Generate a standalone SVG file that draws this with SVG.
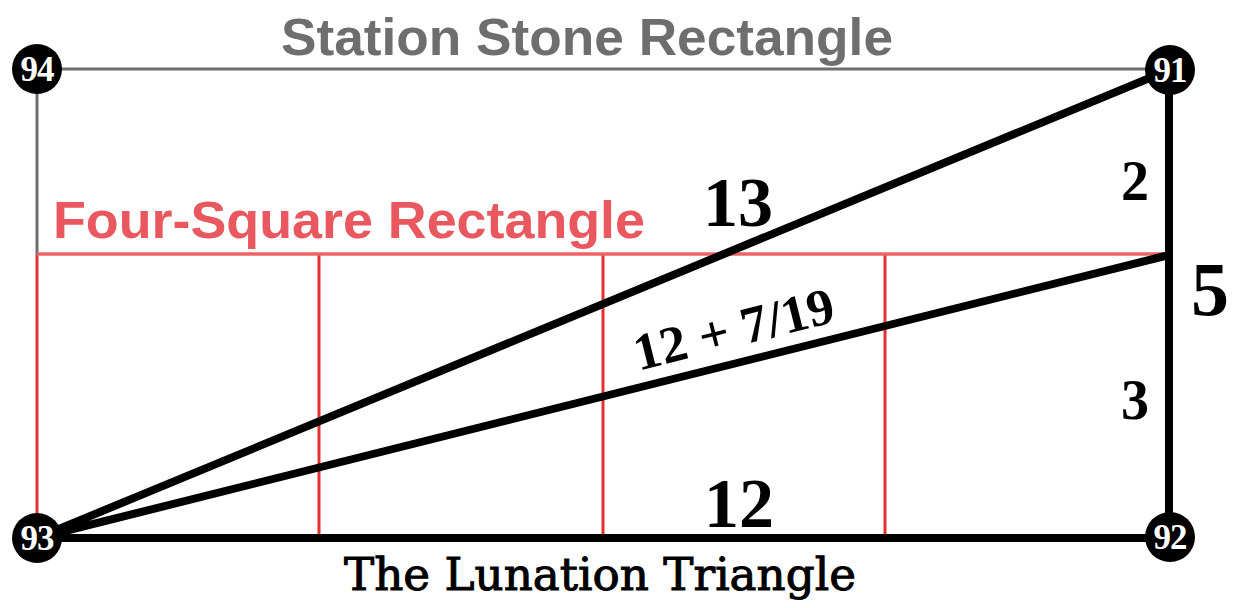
<svg xmlns="http://www.w3.org/2000/svg" width="1233" height="608" viewBox="0 0 1233 608">
<style>
.gray{stroke:#6e6e6e;stroke-width:3;fill:none}
.red{stroke:#e2332f;stroke-width:3;fill:none}
.redtop{stroke:#ee6464;stroke-width:3.5;fill:none}
.blk{stroke:#000;stroke-width:8;fill:none;stroke-linecap:round}
.node circle{fill:#000}
.node text{fill:#fff;font-family:"Liberation Serif",serif;font-weight:bold;font-size:35px;text-anchor:middle;letter-spacing:-1px}
.num{font-family:"Liberation Serif",serif;font-weight:bold;fill:#000;text-anchor:middle}
.sans{font-family:"Liberation Sans",Arial,sans-serif;font-weight:bold;font-size:52px}
</style>
<rect width="1233" height="608" fill="#fff"/>
<g id="connectors">
  <path class="gray" d="M37 69 H1169 M37 69 V255"/>
  <path class="red" d="M37 255 V538 M319 255 V538 M603 255 V538 M885 255 V538"/>
  <path class="redtop" d="M37 254 H1169"/>
  <path class="blk" d="M37 538 H1169 M1169 70 V538 M37 538 L1169 70 M37 538 L1169 255"/>
</g>
<g id="title-station"><text class="sans" x="587" y="55" fill="#6e6e6e" text-anchor="middle" textLength="612" lengthAdjust="spacingAndGlyphs">Station Stone Rectangle</text></g>
<g id="title-foursquare"><text class="sans" x="53" y="238" fill="#e8585e" textLength="592" lengthAdjust="spacingAndGlyphs">Four-Square Rectangle</text></g>
<g id="title-lunation"><text x="600" y="590" font-family="'DejaVu Serif','Liberation Serif',serif" font-size="44" fill="#000" stroke="#000" stroke-width="1" text-anchor="middle" textLength="512" lengthAdjust="spacingAndGlyphs">The Lunation Triangle</text></g>
<g id="label-13"><text class="num" x="738" y="226" font-size="70">13</text></g>
<g id="label-12"><text class="num" x="739" y="527" font-size="70">12</text></g>
<g id="label-2"><text class="num" x="1135" y="200" font-size="56">2</text></g>
<g id="label-3"><text class="num" x="1135" y="419" font-size="56">3</text></g>
<g id="label-5"><text class="num" x="1210" y="315" font-size="76">5</text></g>
<g id="label-frac"><text class="num" transform="translate(738 346) rotate(-14)" font-size="52" textLength="205" lengthAdjust="spacingAndGlyphs">12 + 7/19</text></g>
<g id="node-94" class="node"><circle cx="37" cy="69" r="25"/><text x="37" y="81">94</text></g>
<g id="node-91" class="node"><circle cx="1170" cy="70" r="25"/><text x="1170" y="82">91</text></g>
<g id="node-93" class="node"><circle cx="37" cy="538" r="25"/><text x="37" y="550">93</text></g>
<g id="node-92" class="node"><circle cx="1170" cy="537" r="25"/><text x="1170" y="549">92</text></g>
</svg>
